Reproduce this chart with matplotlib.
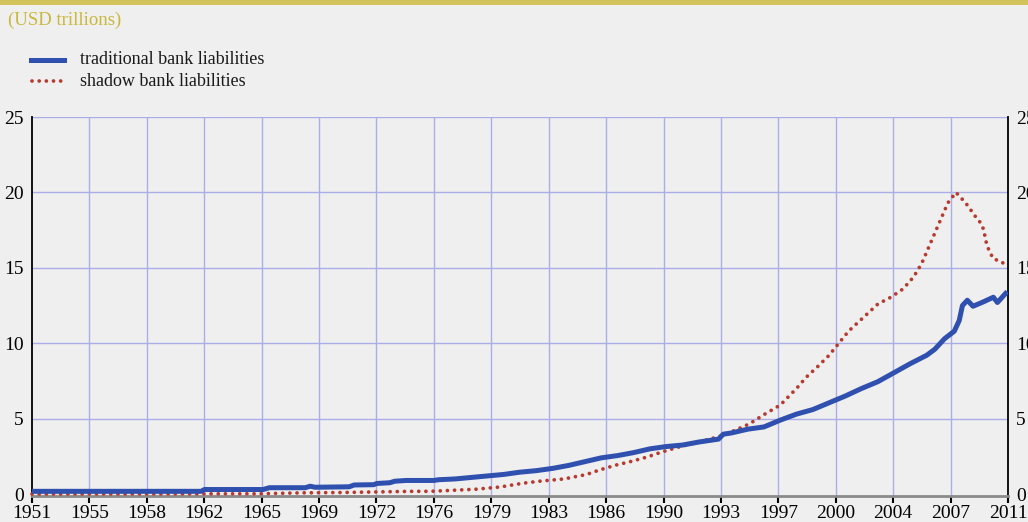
import numpy as np
import matplotlib
matplotlib.use("Agg")
import matplotlib.pyplot as plt
from matplotlib.lines import Line2D
from matplotlib.patches import Rectangle

# traditional bank liabilities (USD trillions)
trad_years = [1951, 1955, 1958, 1961.4, 1961.6, 1965.2, 1965.6, 1967.8, 1968.1, 1968.4,
              1970.5, 1970.8, 1972.0, 1972.2, 1973.0, 1973.3, 1974, 1975.7, 1976, 1977,
              1978, 1979, 1980, 1981, 1982, 1983, 1984, 1985, 1986, 1987, 1988, 1989,
              1990, 1991, 1992, 1993.2, 1993.5, 1994, 1995, 1996, 1997, 1998, 1999,
              2000, 2001, 2002, 2003, 2004, 2005, 2006, 2006.5, 2007.1, 2007.7, 2008.0,
              2008.2, 2008.5, 2008.85, 2009.5, 2010.1, 2010.35, 2010.85]
trad_vals = [0.18, 0.18, 0.18, 0.18, 0.3, 0.3, 0.42, 0.42, 0.52, 0.45,
             0.48, 0.6, 0.62, 0.7, 0.75, 0.85, 0.9, 0.9, 0.95, 1.0,
             1.1, 1.2, 1.3, 1.45, 1.55, 1.7, 1.9, 2.15, 2.4, 2.55, 2.75, 3.0,
             3.15, 3.25, 3.45, 3.64, 3.97, 4.05, 4.3, 4.45, 4.9, 5.3, 5.6,
             6.05, 6.5, 7.0, 7.45, 8.05, 8.65, 9.2, 9.6, 10.3, 10.8, 11.5,
             12.5, 12.85, 12.45, 12.75, 13.05, 12.7, 13.3]

# shadow bank liabilities (USD trillions)
shadow_years = [1951, 1965, 1967.6, 1970, 1974.4, 1975.5, 1976.9, 1978.3, 1979.8, 1981.2,
                1982.2, 1983.7, 1985.1, 1985.9, 1986.9, 1987.9, 1988.8, 1989.7, 1990.6,
                1992.06, 1993.4, 1993.9, 1995.1, 1996.05, 1997, 1998, 1998.6, 1999.3,
                2000.0, 2000.6, 2001.2, 2002.3, 2003.0, 2003.8, 2004.55, 2005.2, 2005.7,
                2006.1, 2006.5, 2006.9, 2007.3, 2007.8, 2008.4, 2009.0, 2009.3, 2009.5,
                2009.6, 2009.7, 2009.9, 2010.1, 2010.6, 2011]
shadow_vals = [0.0, 0.02, 0.08, 0.1, 0.18, 0.18, 0.25, 0.32, 0.47, 0.72,
               0.85, 1.0, 1.3, 1.6, 1.92, 2.18, 2.45, 2.78, 3.07,
               3.47, 3.86, 4.08, 4.65, 5.3, 5.9, 7.0, 7.75, 8.45,
               9.2, 10.0, 10.8, 11.9, 12.6, 13.05, 13.6, 14.4, 15.3,
               16.3, 17.3, 18.3, 19.3, 20.0, 19.3, 18.4, 18.0, 17.55,
               17.0, 16.5, 16.0, 15.6, 15.4, 15.05]

tick_labels = ["1951", "1955", "1958", "1962", "1965", "1969", "1972", "1976", "1979",
               "1983", "1986", "1990", "1993", "1997", "2000", "2004", "2007", "2011"]
y_ticks = [0, 5, 10, 15, 20, 25]

bg = "#efefef"
blue = "#3050b0"
red = "#b83a2e"
grid_c = "#a9aee6"
gold = "#c9b73a"
dots = (0, (0.01, 1.9))

W, H = 1028, 522
fig = plt.figure(figsize=(W / 100, H / 100), dpi=100, facecolor=bg)
plt.rcParams["font.family"] = ["Liberation Serif", "DejaVu Serif"]

ax = fig.add_axes([32 / W, 1 - 496.3 / H, (1008 - 32) / W, (496.3 - 117) / H])
ax.set_facecolor(bg)

tick_pos = np.linspace(1951, 2011, len(tick_labels))
ax.set_xlim(1951, 2011)
ax.set_ylim(-0.15, 25)
ax.set_xticks(tick_pos)
ax.set_xticklabels(tick_labels, fontsize=14)
ax.set_yticks(y_ticks)
ax.set_yticklabels([str(v) for v in y_ticks], fontsize=14)

for x in tick_pos[1:-1]:
    ax.axvline(x, color=grid_c, lw=1, zorder=1)
for y in y_ticks[1:]:
    ax.axhline(y, color=grid_c, lw=1, zorder=1)

ax.plot(shadow_years, shadow_vals, color=red, lw=2.7, linestyle=dots,
        dash_capstyle="round", zorder=3, clip_on=False)
ax.plot(trad_years, trad_vals, color=blue, lw=3.6, solid_joinstyle="round", zorder=4)

ax.spines["top"].set_visible(False)
ax.spines["left"].set_color("black")
ax.spines["left"].set_linewidth(1.3)
ax.spines["right"].set_color("black")
ax.spines["right"].set_linewidth(1.3)
ax.spines["bottom"].set_color("#8a8a8a")
ax.spines["bottom"].set_linewidth(2)

ax.tick_params(axis="x", length=5, width=1.5, color="black", pad=1.5)
ax.tick_params(axis="y", length=0, pad=6, labelright=True, right=False)

# header bar and unit label
fig.add_artist(Rectangle((0, 1 - 5 / H), 1, 5 / H, transform=fig.transFigure,
                         color="#d3c35c", lw=0))
fig.text(8 / W, 1 - 20 / H, "(USD trillions)", color=gold, fontsize=13.5, va="center")

# legend
fig.add_artist(Line2D([31 / W, 64 / W], [1 - 60 / H] * 2, color=blue, lw=3.6,
                      transform=fig.transFigure))
fig.add_artist(Line2D([32 / W, 64 / W], [1 - 81 / H] * 2, color=red, lw=2.7,
                      linestyle=dots, dash_capstyle="round",
                      transform=fig.transFigure))
fig.text(80 / W, 1 - 60 / H, "traditional bank liabilities", fontsize=13, va="center",
         color="#1a1a1a")
fig.text(80 / W, 1 - 81 / H, "shadow bank liabilities", fontsize=13, va="center",
         color="#1a1a1a")

fig.savefig("out.png", dpi=100, facecolor=bg)
